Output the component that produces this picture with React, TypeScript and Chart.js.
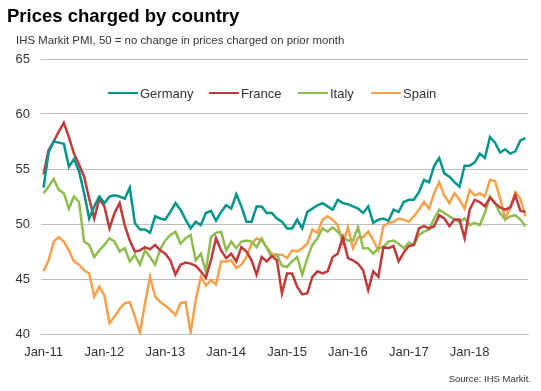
import React, { useEffect, useRef } from "react";
import { Chart, registerables } from "chart.js";

Chart.register(...registerables);

const FONT = "'Liberation Sans', Arial, Helvetica, sans-serif";

const years = ["11", "12", "13", "14", "15", "16", "17", "18"];
const monthNames = ["Jan", "Feb", "Mar", "Apr", "May", "Jun", "Jul", "Aug", "Sep", "Oct", "Nov", "Dec"];
const categories: string[] = years.flatMap((y) => monthNames.map((m) => `${m}-${y}`));

const yTicks = [40, 45, 50, 55, 60, 65];

const germany = [
  53.3, 56.5, 57.5, 57.4, 57.3, 55.2, 55.9, 54.8, 52.8, 50.5,
  51.6, 52.5, 51.9, 52.5, 52.6, 52.5, 52.3, 53.3, 50.1, 49.5,
  49.5, 49.2, 50.7, 50.5, 50.4, 51.1, 51.9, 51.3, 50.4, 49.6,
  50.2, 49.9, 51.0, 51.2, 50.3, 51.1, 51.7, 51.4, 52.7, 51.6,
  50.2, 50.2, 51.6, 51.6, 51.0, 51.0, 50.5, 50.2, 49.6, 49.6,
  50.4, 49.6, 51.1, 51.4, 51.7, 51.9, 51.6, 51.3, 52.2, 51.9,
  51.8, 51.6, 51.4, 51.0, 51.6, 50.1, 50.4, 50.5, 50.3, 51.3,
  51.1, 52.0, 52.2, 52.2, 52.9, 54.0, 53.8, 55.3, 56.0, 54.6,
  54.3, 53.8, 53.4, 55.3, 55.3, 55.6, 56.4, 56.0, 57.9, 57.4,
  56.5, 56.8, 56.4, 56.6, 57.6, 57.8,
];

const france = [
  54.5, 56.7, 57.5, 58.4, 59.2, 57.9, 56.4, 55.4, 54.3, 52.3,
  50.5, 52.3, 51.6, 49.6, 51.0, 51.9, 49.9, 48.5, 47.5, 47.6,
  47.9, 47.7, 48.1, 47.6, 47.3, 46.7, 45.4, 46.3, 46.5, 46.4,
  46.2, 45.7, 45.1, 46.7, 48.7, 47.6, 46.9, 47.3, 46.6, 47.9,
  47.5, 46.7, 45.4, 47.0, 46.6, 47.1, 46.7, 43.7, 45.5, 45.5,
  44.3, 43.6, 43.7, 45.2, 45.7, 45.5, 45.7, 47.0, 47.3, 48.8,
  46.9, 46.7, 46.4, 45.8, 44.0, 45.7, 45.2, 47.9, 47.8, 48.0,
  46.6, 47.4, 48.0, 48.1, 49.6, 49.8, 49.6, 49.8, 50.8, 50.5,
  49.8, 50.4, 50.4, 48.7, 51.3, 52.2, 52.0, 51.6, 52.4, 51.9,
  51.5, 51.3, 51.5, 52.6, 51.2, 51.1,
];

const italy = [
  52.8, 53.4, 54.1, 53.1, 52.8, 51.4, 52.5, 52.0, 48.4, 48.1,
  47.0, 47.6, 48.1, 48.7, 48.4, 47.5, 47.8, 46.6, 47.2, 46.3,
  47.6, 47.0, 46.3, 47.7, 48.5, 49.0, 49.3, 48.2, 48.7, 49.0,
  46.7, 47.3, 45.7, 48.8, 49.2, 49.3, 47.6, 48.4, 47.8, 48.4,
  48.5, 48.4, 47.9, 48.7, 47.8, 47.0, 47.2, 46.2, 46.1, 46.6,
  47.0, 45.4, 46.9, 48.1, 48.7, 49.6, 49.3, 49.7, 49.3, 48.8,
  48.5, 48.5, 49.7, 47.8, 47.8, 47.3, 47.8, 47.9, 48.4, 48.5,
  48.2, 47.8, 48.3, 48.1, 49.0, 49.3, 49.5, 50.5, 51.3, 51.0,
  50.7, 50.4, 50.2, 50.5, 49.9, 50.1, 49.9, 51.0, 52.5, 51.9,
  51.0, 50.4, 50.7, 50.8, 50.4, 49.8,
];

const spain = [
  45.7, 46.7, 48.4, 48.8, 48.4, 47.6, 46.6, 46.3, 45.8, 45.5,
  43.4, 44.3, 43.5, 41.0, 41.6, 42.3, 42.8, 42.9, 41.6, 40.1,
  42.8, 45.2, 43.4, 42.9, 42.6, 42.2, 41.7, 42.8, 42.9, 40.1,
  43.1, 45.2, 44.4, 44.9, 44.5, 46.6, 46.6, 46.7, 46.0, 46.3,
  47.0, 48.2, 48.7, 48.5, 47.9, 47.3, 47.2, 47.2, 46.9, 47.6,
  47.5, 47.8, 48.2, 49.5, 49.2, 50.4, 50.7, 50.4, 49.9, 48.2,
  49.7, 47.8, 48.8, 48.8, 49.3, 48.5, 47.6, 49.8, 50.1, 50.2,
  50.5, 50.4, 50.2, 50.7, 51.3, 52.0, 51.4, 52.8, 53.8, 52.6,
  51.9, 52.8, 52.2, 51.4, 53.1, 52.6, 52.8, 52.5, 54.0, 53.9,
  52.3, 50.5, 51.5, 52.9, 52.3, 50.7,
];

const seriesNames = ["Germany", "France", "Italy", "Spain"];
const seriesColors = ["#00968a", "#c0393b", "#8fbc4f", "#f9a04b"];
const seriesData = [germany, france, italy, spain];

const legendLeft = [108, 209, 298, 371];

export default function App() {
  const canvasRef = useRef<HTMLCanvasElement | null>(null);

  useEffect(() => {
    const canvas = canvasRef.current;
    if (!canvas) return;
    const gridColor = "#bfbfbf";
    const chart = new Chart(canvas, {
      type: "line",
      data: {
        labels: categories,
        datasets: seriesNames.map((name, k) => ({
          label: name,
          data: seriesData[k],
          borderColor: seriesColors[k],
          backgroundColor: seriesColors[k],
          borderWidth: 2.5,
          pointRadius: 0,
          tension: 0,
          fill: false,
        })),
      },
      options: {
        animation: false,
        responsive: false,
        maintainAspectRatio: false,
        devicePixelRatio: 1,
        layout: { padding: { top: 59, right: 13, bottom: 0, left: 0 } },
        plugins: {
          legend: { display: false },
          tooltip: { enabled: false },
          title: { display: false },
        },
        scales: {
          x: {
            type: "category",
            offset: true,
            grid: {
              offset: true,
              drawOnChartArea: false,
              drawTicks: true,
              tickLength: 5,
              color: (ctx: any) =>
                ctx.index % 12 === 0 && ctx.index < categories.length ? gridColor : "rgba(0,0,0,0)",
              tickColor: (ctx: any) =>
                ctx.index % 12 === 0 && ctx.index < categories.length ? gridColor : "rgba(0,0,0,0)",
            },
            border: { display: true, color: gridColor, width: 1 },
            ticks: {
              autoSkip: false,
              maxRotation: 0,
              minRotation: 0,
              padding: 6,
              color: "#333333",
              font: { family: FONT, size: 13 },
              callback: (_v: any, i: number) => (i % 12 === 0 ? categories[i] : null),
            },
            afterFit: (s: any) => {
              s.height = 57;
            },
          },
          y: {
            min: yTicks[0],
            max: yTicks[yTicks.length - 1],
            afterBuildTicks: (s: any) => {
              s.ticks = yTicks.map((v) => ({ value: v }));
            },
            grid: { color: gridColor, lineWidth: 1, drawTicks: false },
            border: { display: false },
            ticks: {
              padding: 11,
              color: "#333333",
              font: { family: FONT, size: 13 },
            },
            afterFit: (s: any) => {
              s.width = 41;
            },
          },
        },
      },
    });
    return () => chart.destroy();
  }, []);

  return (
    <div
      style={{
        position: "fixed",
        left: 0,
        top: 0,
        width: 541,
        height: 391,
        background: "#ffffff",
        fontFamily: FONT,
        overflow: "hidden",
      }}
    >
      <canvas
        ref={canvasRef}
        width={541}
        height={391}
        style={{ position: "absolute", left: 0, top: 0, width: 541, height: 391 }}
      />
      <div
        style={{
          position: "absolute",
          left: 7,
          top: 7,
          fontSize: 18.5,
          lineHeight: 1,
          fontWeight: "bold",
          color: "#000",
          whiteSpace: "nowrap",
        }}
      >
        Prices charged by country
      </div>
      <div
        style={{
          position: "absolute",
          left: 16,
          top: 34.5,
          fontSize: 11.4,
          lineHeight: 1,
          color: "#333",
          whiteSpace: "nowrap",
        }}
      >
        IHS Markit PMI, 50 = no change in prices charged on prior month
      </div>
      {seriesNames.map((name, k) => (
        <div
          key={name}
          style={{
            position: "absolute",
            left: legendLeft[k],
            top: 85,
            height: 16,
            display: "flex",
            alignItems: "center",
            fontSize: 13,
            color: "#333",
            whiteSpace: "nowrap",
          }}
        >
          <span
            style={{
              display: "inline-block",
              width: 30,
              height: 2.5,
              background: seriesColors[k],
              marginRight: 2,
            }}
          />
          <span>{name}</span>
        </div>
      ))}
      <div
        style={{
          position: "absolute",
          right: 10,
          top: 374,
          fontSize: 9.5,
          lineHeight: 1,
          color: "#333",
          whiteSpace: "nowrap",
        }}
      >
        Source: IHS Markit.
      </div>
    </div>
  );
}
